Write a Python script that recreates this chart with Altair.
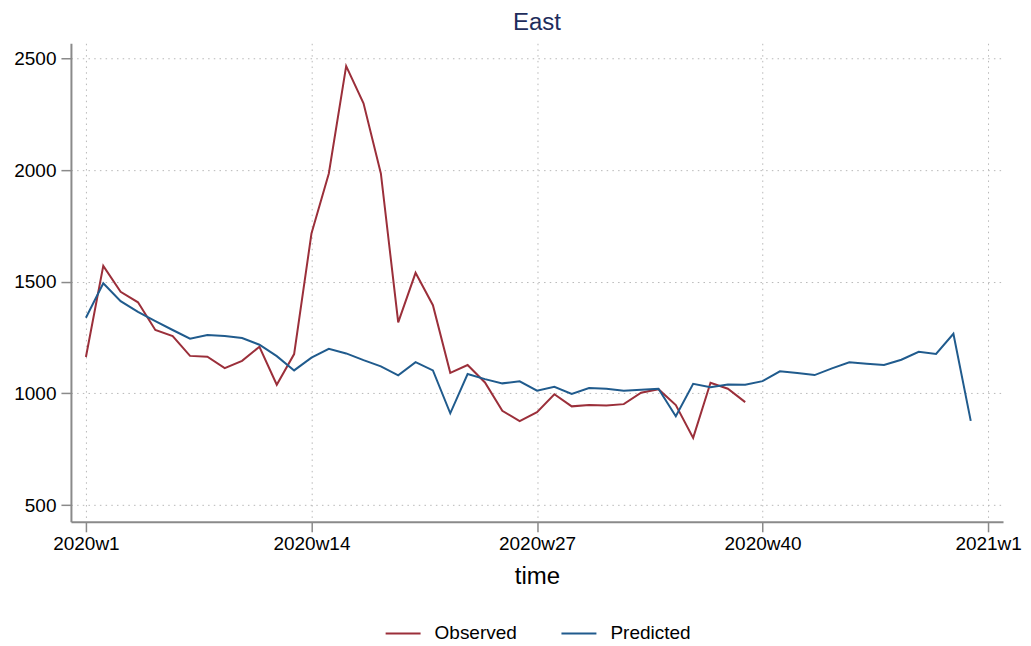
import altair as alt
import pandas as pd

weeks = list(range(1, 53))
observed = [1163, 1571, 1455, 1408, 1284, 1257, 1168, 1164, 1113, 1146,
            1209, 1039, 1176, 1716, 1985, 2466, 2299, 1985, 1318, 1540,
            1395, 1092, 1127, 1049, 922, 876, 916, 996, 942, 948,
            946, 952, 1003, 1019, 948, 801, 1048, 1021, 961]
predicted = [1339, 1493, 1413, 1365, 1324, 1284, 1245, 1262, 1257, 1248,
             1218, 1167, 1103, 1160, 1200, 1179, 1149, 1121, 1081, 1140,
             1103, 911, 1087, 1064, 1045, 1054, 1012, 1030, 998, 1024,
             1021, 1012, 1016, 1021, 898, 1043, 1028, 1040, 1039, 1055,
             1099, 1091, 1082, 1112, 1139, 1133, 1127, 1151, 1186, 1177,
             1267, 877]
series_names = ["Observed", "Predicted"]
series_colors = ["#9b2f3a", "#205b8d"]
x_ticks = [1, 14, 27, 40, 53]
y_ticks = [500, 1000, 1500, 2000, 2500]

rows = []
for w, v in zip(weeks, observed):
    rows.append({"t": w, "value": v, "series": "Observed"})
for w, v in zip(weeks, predicted):
    rows.append({"t": w, "value": v, "series": "Predicted"})
df = pd.DataFrame(rows)

FONT = "Liberation Sans"

chart = alt.Chart(df).mark_line(strokeWidth=2, clip=True).encode(
    x=alt.X("t:Q",
            scale=alt.Scale(domain=[0.136, 53.86], nice=False, zero=False),
            axis=alt.Axis(values=x_ticks,
                          labelExpr="datum.value == 53 ? '2021w1' : '2020w' + datum.value",
                          title="time", titleFontSize=24, titleFont=FONT,
                          titleFontWeight="normal", titleColor="#000000",
                          titlePadding=11,
                          labelFontSize=19, labelFont=FONT, labelColor="#000000",
                          labelPadding=3, tickSize=10, tickWidth=1.5,
                          tickColor="#8a8a8a", domainColor="#8a8a8a", domainWidth=2,
                          grid=True, gridColor="#b8b8b8", gridDash=[1.5, 4.2],
                          gridWidth=1, labelFlush=False)),
    y=alt.Y("value:Q",
            scale=alt.Scale(domain=[425, 2568], nice=False, zero=False),
            axis=alt.Axis(values=y_ticks, title=None, format="d",
                          labelFontSize=19, labelFont=FONT, labelColor="#000000",
                          labelPadding=5, tickSize=10, tickWidth=1.5,
                          tickColor="#8a8a8a", domainColor="#8a8a8a", domainWidth=2,
                          grid=True, gridColor="#b8b8b8", gridDash=[1.5, 4.2],
                          gridWidth=1)),
    color=alt.Color("series:N",
                    scale=alt.Scale(domain=series_names, range=series_colors),
                    legend=alt.Legend(title=None, orient="none", direction="horizontal",
                                      legendX=314, legendY=572,
                                      symbolType="stroke", symbolSize=1225,
                                      symbolStrokeWidth=2, labelFontSize=19,
                                      labelFont=FONT, labelColor="#000000",
                                      labelOffset=13, columnPadding=40)),
    detail="series:N",
).properties(
    width=933, height=479,
    title=alt.TitleParams("East", fontSize=24, font=FONT, fontWeight="normal",
                          color="#1e2d5c", anchor="middle", offset=8),
    autosize=alt.AutoSizeParams(type="none"),
    padding={"left": 63, "top": 35, "right": 20, "bottom": 122},
).configure_view(strokeWidth=0)

chart.save("out.html", embed_options={"renderer": "svg", "actions": False})
